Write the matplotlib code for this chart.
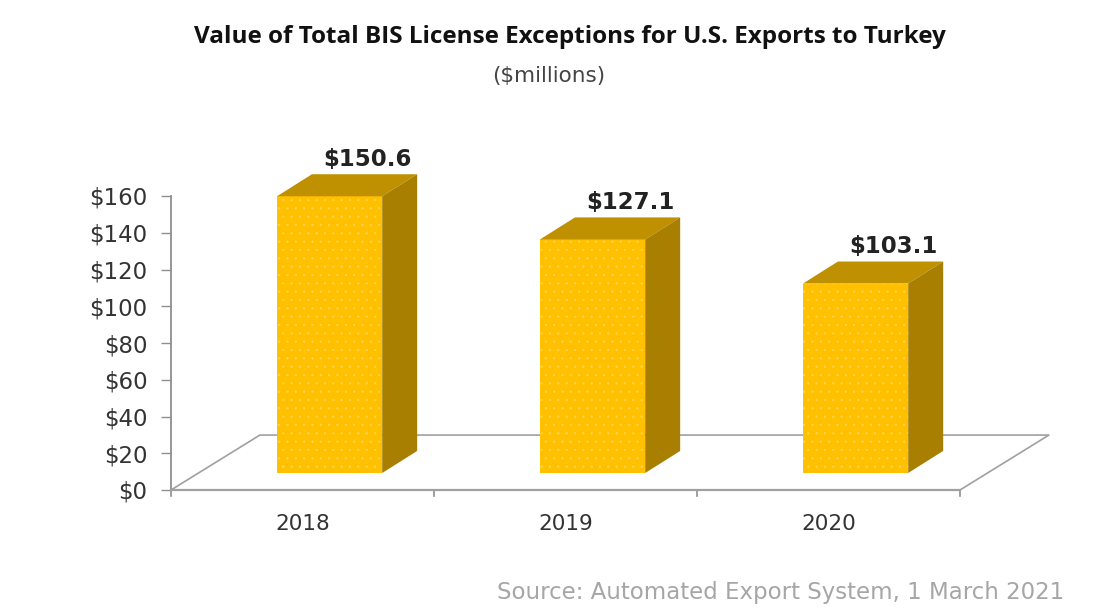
import matplotlib
matplotlib.use("Agg")
import matplotlib.pyplot as plt
from matplotlib.patches import Polygon, Rectangle

years = ["2018", "2019", "2020"]
values = [150.6, 127.1, 103.1]
labels = ["$150.6", "$127.1", "$103.1"]
yticks = [0, 20, 40, 60, 80, 100, 120, 140, 160]

W, H = 1112, 613
fig = plt.figure(figsize=(W / 100, H / 100), dpi=100, facecolor="white")
L, R, T, B = 171, 960, 196, 490
ax = fig.add_axes([L / W, 1 - B / H, (R - L) / W, (B - T) / H])
ax.set_xlim(-0.5, 2.5)
ax.set_ylim(0, 160)
ax.patch.set_visible(False)

grey = "#8f8f8f"
for s in ("top", "right"):
    ax.spines[s].set_visible(False)
ax.spines["left"].set_color(grey)
ax.spines["bottom"].set_color("#a0a0a0")
ax.spines["left"].set_linewidth(1.3)
ax.spines["bottom"].set_linewidth(1.6)

ax.set_yticks(yticks)
ax.set_yticklabels([f"${v}" for v in yticks], fontsize=16.5, color="#333333")
ax.set_xticks(range(3))
ax.set_xticklabels(years, fontsize=15.5, color="#333333")
ax.tick_params(axis="y", length=7, width=1.0, color=grey, pad=10)
ax.tick_params(axis="x", length=0, pad=17)
for x in (-0.5, 0.5, 1.5, 2.5):
    ax.plot([x, x], [0, -3], color=grey, lw=1.2, clip_on=False, zorder=1)

# floor of the 3-D box
fdx, fdy = 0.338, 29.9
ax.plot([-0.5, -0.5 + fdx, 2.5 + fdx, 2.5], [0, fdy, fdy, 0],
        color="#a0a0a0", lw=1.2, clip_on=False, zorder=1)

# 3-D bars
bw, off_x, off_y = 0.40, 0.103, 9.25
dx, dy = 0.133, 12.0
front, top, side = "#FFC000", "#BF9000", "#A87F00"
plt.rcParams["hatch.linewidth"] = 0.5
for i, (v, lab) in enumerate(zip(values, labels)):
    x0 = i + off_x - bw / 2
    x1 = x0 + bw
    y0 = off_y
    y1 = off_y + v
    ax.add_patch(Rectangle((x0, y0), bw, v, facecolor=front, edgecolor="#FFD34D",
                           hatch="..", lw=0, clip_on=False, zorder=3))
    ax.add_patch(Polygon([(x0, y1), (x0 + dx, y1 + dy), (x1 + dx, y1 + dy), (x1, y1)],
                         closed=True, facecolor=top, edgecolor="none", clip_on=False, zorder=3))
    ax.add_patch(Polygon([(x1, y0), (x1 + dx, y0 + dy), (x1 + dx, y1 + dy), (x1, y1)],
                         closed=True, facecolor=side, edgecolor="none", clip_on=False, zorder=3))
    ax.annotate(lab, xy=(x0 + bw / 2, y1), xytext=(27, 26.5), textcoords="offset points",
                ha="center", va="center", fontsize=16.5, fontweight="bold",
                color="#222222", zorder=4)

fig.text(570 / W, 1 - 37 / H, "Value of Total BIS License Exceptions for U.S. Exports to Turkey",
         ha="center", va="center", fontsize=17.5, fontweight="bold",
         family="Open Sans", color="#111111")
fig.text(549 / W, 1 - 76 / H, "($millions)", ha="center", va="center",
         fontsize=15.5, family="DejaVu Sans", color="#444444")
fig.text(781 / W, 1 - 593 / H, "Source: Automated Export System, 1 March 2021",
         ha="center", va="center", fontsize=16.5, family="DejaVu Sans", color="#a6a6a6")

fig.savefig("out.png", dpi=100, facecolor="white")
